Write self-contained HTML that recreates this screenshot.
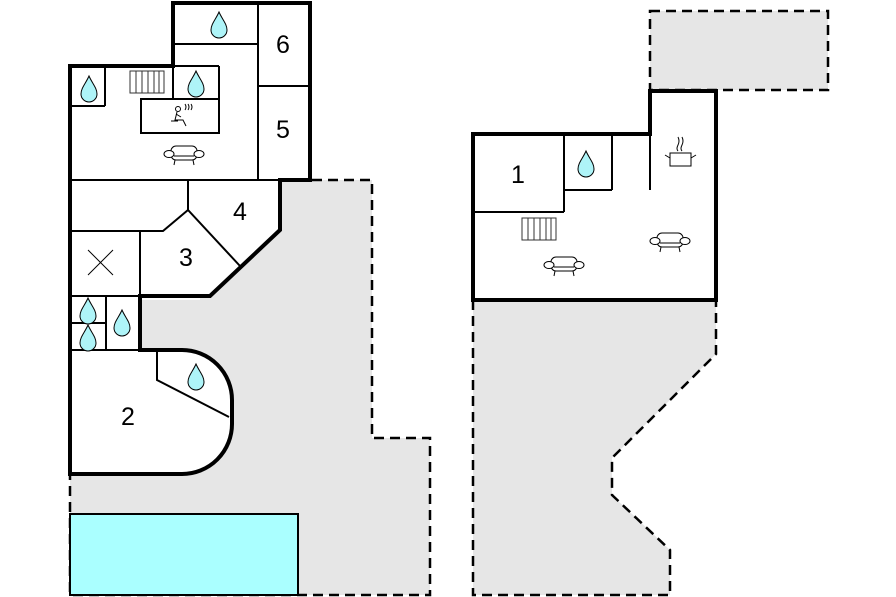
<!DOCTYPE html>
<html><head><meta charset="utf-8"><style>
html,body{margin:0;padding:0;background:#fff;}
svg{display:block;}
text{font-family:"Liberation Sans",sans-serif;font-size:25px;fill:#000;}
</style></head><body>
<svg width="896" height="597" viewBox="0 0 896 597" xmlns="http://www.w3.org/2000/svg">
<defs>
<g id="drop"><path d="M0,-13 C3,-6 8,-1 8,5 A8,8 0 0 1 -8,5 C-8,-1 -3,-6 0,-13 Z" fill="#aef4f8" stroke="#000" stroke-width="1"/></g>
<g id="rad" fill="none" stroke="#333" stroke-width="1"><rect x="-17" y="-11" width="34" height="22" fill="#fff"/><line x1="-11" y1="-11" x2="-11" y2="11"/><line x1="-5" y1="-11" x2="-5" y2="11"/><line x1="1" y1="-11" x2="1" y2="11"/><line x1="7" y1="-11" x2="7" y2="11"/><line x1="12" y1="-11" x2="12" y2="11"/></g>
<g id="sofa" fill="#fff" stroke="#000" stroke-width="1"><rect x="-13" y="-8" width="26" height="14" rx="5"/><ellipse cx="-15" cy="0" rx="5" ry="3.5"/><ellipse cx="15" cy="0" rx="5" ry="3.5"/><line x1="-9" y1="6" x2="-10" y2="11"/><line x1="9" y1="6" x2="10" y2="11"/><line x1="-10" y1="2" x2="10" y2="2"/></g>
</defs>
<!-- gray areas -->
<path d="M200,180 L372,180 L372,438 L430,438 L430,595 L70,595 L70,300 L200,300 Z" fill="#e6e6e6"/>
<g fill="none" stroke="#000" stroke-width="2.5" stroke-dasharray="10,6">
<path d="M280,180 L372,180 L372,438 L430,438 L430,595 L70,595 L70,474"/>
</g>
<g fill="#e6e6e6" stroke="#000" stroke-width="2.5" stroke-dasharray="10,6">
<rect x="650" y="11" width="178" height="79"/>
<path d="M473,300 L473,595 L670,595 L670,550 L612,495 L612,458 L716,354 L716,300"/>
</g>
<rect x="70" y="514" width="228" height="81" fill="#aaffff" stroke="#000" stroke-width="2"/>
<!-- left building -->
<path d="M70,66 L173,66 L173,3 L310,3 L310,180 L280,180 L280,230 L210,296 L140,296 L140,350 L182,350 A50,50 0 0 1 232,400 L232,424 A50,50 0 0 1 182,474 L70,474 Z" fill="#fff" stroke="#000" stroke-width="4"/>
<g stroke="#000" stroke-width="2" fill="none">
<line x1="173" y1="44" x2="258" y2="44"/>
<line x1="258" y1="3" x2="258" y2="180"/>
<line x1="258" y1="86" x2="310" y2="86"/>
<line x1="105" y1="66" x2="105" y2="106"/>
<line x1="70" y1="106" x2="105" y2="106"/>
<line x1="173" y1="66" x2="219" y2="66"/>
<line x1="219" y1="66" x2="219" y2="133"/>
<line x1="173" y1="66" x2="173" y2="99"/>
<rect x="141" y="99" width="78" height="34"/>
<line x1="70" y1="180" x2="280" y2="180"/>
<line x1="188" y1="180" x2="188" y2="210"/>
<path d="M70,231 L163,231 L188,210 L240,266"/>
<line x1="140" y1="231" x2="140" y2="296"/>
<line x1="70" y1="296" x2="140" y2="296"/>
<line x1="106" y1="296" x2="106" y2="350"/>
<line x1="70" y1="323" x2="106" y2="323"/>
<line x1="70" y1="350" x2="140" y2="350"/>
<path d="M157,350 L157,380 L229,417"/>
<line x1="88" y1="250" x2="113" y2="275" stroke-width="1"/>
<line x1="113" y1="250" x2="88" y2="275" stroke-width="1"/>
</g>
<!-- right building -->
<path d="M473,134 L650,134 L650,91 L716,91 L716,300 L473,300 Z" fill="#fff" stroke="#000" stroke-width="4"/>
<g stroke="#000" stroke-width="2" fill="none">
<line x1="473" y1="212" x2="564" y2="212"/>
<line x1="564" y1="134" x2="564" y2="212"/>
<line x1="612" y1="134" x2="612" y2="190"/>
<line x1="564" y1="190" x2="612" y2="190"/>
<line x1="650" y1="134" x2="650" y2="190"/>
</g>
<!-- icons -->
<use href="#drop" x="219" y="25"/>
<use href="#drop" x="89" y="89"/>
<use href="#drop" x="196" y="84"/>
<use href="#drop" x="88" y="311"/>
<use href="#drop" x="88" y="338"/>
<use href="#drop" x="122" y="323"/>
<use href="#drop" x="196" y="377"/>
<use href="#drop" x="586" y="164"/>
<use href="#rad" x="147" y="82"/>
<use href="#rad" x="539" y="229"/>
<use href="#sofa" x="184" y="154"/>
<use href="#sofa" x="564" y="265"/>
<use href="#sofa" x="670" y="241"/>
<g stroke="#000" stroke-width="1" fill="none">
<circle cx="178" cy="109" r="2.5"/>
<path d="M177,112 L175,120 L183,120 L186,126 M176,114 L181,117 M171,121 L178,121"/>
<path d="M185,104 q2,3 0,6 M188,104 q2,3 0,6 M191,104 q2,3 0,6"/>
</g>
<g stroke="#000" stroke-width="1" fill="#fff">
<rect x="670" y="153" width="21" height="13"/>
<line x1="665" y1="155" x2="670" y2="158"/><line x1="696" y1="155" x2="691" y2="158"/>
<path d="M678,137 q2,4 0,8 q-2,4 0,6 M682,137 q2,4 0,8 q-2,4 0,6" fill="none"/>
</g>
<text x="283" y="53" text-anchor="middle">6</text>
<text x="283" y="138" text-anchor="middle">5</text>
<text x="240" y="220" text-anchor="middle">4</text>
<text x="186" y="266" text-anchor="middle">3</text>
<text x="128" y="425" text-anchor="middle">2</text>
<text x="518" y="183" text-anchor="middle">1</text>
</svg>
</body></html>
